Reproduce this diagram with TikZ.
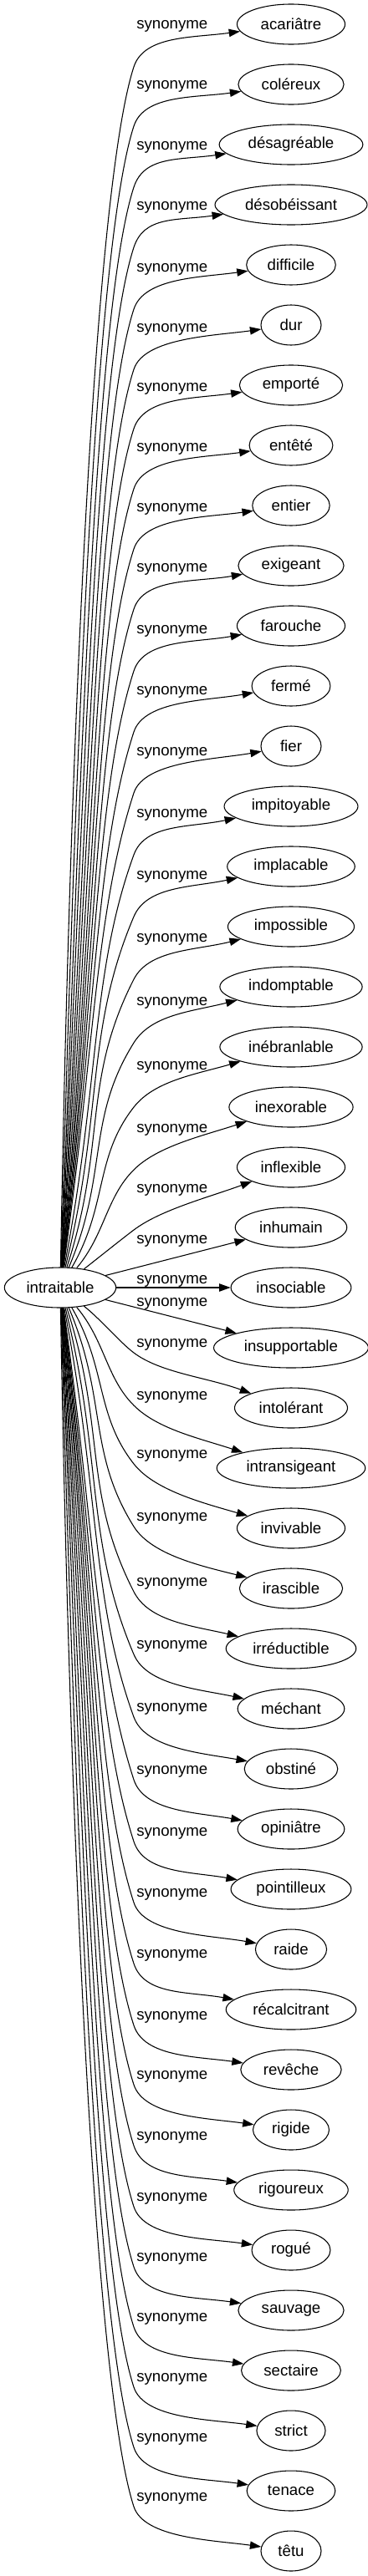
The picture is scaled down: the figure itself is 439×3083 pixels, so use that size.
\documentclass[tikz,border=0pt]{standalone}
\usepackage{fontspec}
\setmainfont{Liberation Sans}
\usetikzlibrary{shapes.geometric,arrows.meta,calc}
\begin{document}
\begin{tikzpicture}[x=0.75pt,y=0.75pt,
  word/.style={ellipse, draw, line width=0.8pt, minimum height=36pt, minimum width=54pt,
    inner xsep=7pt, inner ysep=2pt, font=\fontsize{14pt}{17pt}\selectfont},
  lab/.style={anchor=base west, inner sep=0pt, font=\fontsize{14pt}{17pt}\selectfont},
  conn/.style={line width=0.8pt, -{Triangle[length=10pt,width=7pt]}}]
\useasboundingbox (0,0) rectangle (439,-3083);
\node[word, inner xsep=5pt] (src) at (72,-1541) {intraitable};
\foreach \nn/\txt/\ly/\oa/\tP/\arr in {
0/acariâtre/30/89/72/188,
1/coléreux/101/88.4/72/188,
2/désagréable/174/87.8/72/188,
3/désobéissant/246/87.2/72/188,
4/difficile/320/86.6/72/188,
5/dur/392/86/72/188,
6/emporté/463/85.4/72/188,
7/entêté/535/84.8/72/188,
8/entier/607/84.2/72/188,
9/exigeant/679/83.6/72/190,
10/farouche/753/83/72/190,
11/fermé/826/82.4/72/190,
12/fier/899/81.8/72/190,
13/impitoyable/973/79/70/192,
14/implacable/1047/76/67/192,
15/impossible/1122/72/63/194,
16/indomptable/1198/67/58/194,
17/inébranlable/1275/60/52/196,
18/inexorable/1350/50/45/198,
19/inflexible/1422/38/37/200,
20/inhumain/1483/15/0/195,
21/insociable/1531/0/0/180,
22/insupportable/1558/-15/0/165,
23/intolérant/1607/-38/-37/160,
24/intransigeant/1670/-50/-45/162,
25/invivable/1740/-60/-52/164,
26/irascible/1815/-67/-58/166,
27/irréductible/1893/-72/-63/167,
28/méchant/1968/-76/-67/168,
29/obstiné/2043/-79/-70/170,
30/opiniâtre/2118/-81.8/-72/170,
31/pointilleux/2192/-82.4/-72/170,
32/raide/2265/-83/-72/170,
33/récalcitrant/2338/-83.6/-72/170,
34/revêche/2412/-84.2/-72/172,
35/rigide/2483/-84.8/-72/172,
36/rigoureux/2556/-85.4/-72/172,
37/rogué/2629/-86/-72/172,
38/sauvage/2701/-86.6/-72/172,
39/sectaire/2773/-87.2/-72/172,
40/strict/2845/-87.8/-72/172,
41/tenace/2917/-88.4/-72/172,
42/têtu/2988/-89/-72/172}{
  \pgfmathsetmacro\ty{29+72*\nn}
  \node[word] (t\nn) at (348,-\ty) {\txt};
  \node[lab] (l\nn) at (163,-\ly-5) {synonyme};
  \ifnum\nn<20
    \pgfmathsetmacro\Py{\ly+50}
    \pgfmathsetmacro\hh{1517-\Py}
  \else
    \pgfmathsetmacro\Py{\ly+12}
    \pgfmathsetmacro\hh{\Py-1565}
  \fi
  \pgfmathsetmacro\dA{0.45*\hh}
  \pgfmathsetmacro\dB{min(150,0.4*\hh)}
  \pgfmathsetmacro\tback{\tP+180}
  \ifnum\nn>19 \ifnum\nn<23
    \draw[conn] (src.\oa) -- (t\nn.\arr);
  \fi\fi
  \ifnum\nn<20
    \coordinate (p\nn) at (160,-\Py);
    \draw[conn] (src.\oa) .. controls ($(src.\oa)+(\oa:\dA)$) and ($(p\nn)+(\tback:\dB)$) .. (p\nn)
      .. controls ($(p\nn)+(\tP:40)$) and ($(t\nn.\arr)+(\arr:56)$) .. (t\nn.\arr);
  \fi
  \ifnum\nn>22
    \coordinate (p\nn) at (160,-\Py);
    \draw[conn] (src.\oa) .. controls ($(src.\oa)+(\oa:\dA)$) and ($(p\nn)+(\tback:\dB)$) .. (p\nn)
      .. controls ($(p\nn)+(\tP:40)$) and ($(t\nn.\arr)+(\arr:56)$) .. (t\nn.\arr);
  \fi
}
\end{tikzpicture}
\end{document}
